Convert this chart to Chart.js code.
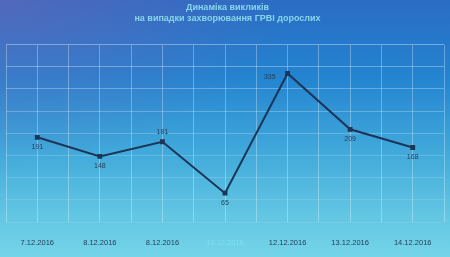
<!DOCTYPE html>
<html>
<head>
<meta charset="utf-8">
<script src="https://cdn.jsdelivr.net/npm/chart.js@4/dist/chart.umd.min.js"></script>
<style>
  html, body { margin: 0; padding: 0; }
  body {
    width: 450px; height: 257px; overflow: hidden;
    background:
      radial-gradient(ellipse at 0% 0%, rgba(120,100,180,0.5) 0%, rgba(120,100,180,0) 45%),
      linear-gradient(180deg, #2a6cc4 0%, #2384d0 30%, #42aadb 60%, #64c8e3 85%, #74d4e8 100%);
  }
  canvas { display: block; }
</style>
</head>
<body>
<canvas id="chart" width="450" height="257"></canvas>
<script>
const titleLines = ["Динаміка викликів", "на випадки захворювання ГРВІ дорослих"];
const dates = ["7.12.2016", "8.12.2016", "8.12.2016", "10.12.2016", "12.12.2016", "13.12.2016", "14.12.2016"];
const calls = [191, 148, 181, 65, 335, 209, 168];
const labelSide = ["below", "below", "above", "below", "left", "below", "below"];
const tickColors = ["#27405e", "#27405e", "#27405e", "#7fe0f0", "#27405e", "#27405e", "#27405e"];

// value labels next to points
const valueLabels = {
    id: "valueLabels",
    afterDatasetsDraw(chart) {
        const ctx = chart.ctx;
        const meta = chart.getDatasetMeta(0);
        ctx.save();
        ctx.font = "7px 'Liberation Sans', Arial, sans-serif";
        ctx.fillStyle = "#2d3d52";
        ctx.textBaseline = "middle";
        meta.data.forEach((pt, i) => {
            const side = labelSide[i];
            let x = pt.x, y = pt.y;
            ctx.textAlign = "center";
            if (side === "below") y += 10;
            else if (side === "above") y -= 10;
            else { x -= 12; y += 4; ctx.textAlign = "right"; }
            ctx.fillText(String(calls[i]), x, y);
        });
        ctx.restore();
    },
};

new Chart(document.getElementById("chart"), {
    type: "line",
    data: {
        labels: dates,
        datasets: [
            {
                data: calls,
                borderColor: "#1d3556",
                backgroundColor: "#1d3556",
                borderWidth: 2,
                pointStyle: "rect",
                pointRadius: 2,
                tension: 0,
                fill: false,
            },
        ],
    },
    options: {
        responsive: false,
        animation: false,
        layout: { padding: { left: 5, right: 0, top: 0, bottom: 11 } },
        plugins: {
            legend: { display: false },
            tooltip: { enabled: false },
            title: {
                display: true,
                text: titleLines,
                color: "#86d6ea",
                font: { family: "'Liberation Sans', Arial, sans-serif", size: 9, weight: "bold", lineHeight: 1.2 },
                padding: { top: 2, bottom: 21 },
            },
        },
        scales: {
            x: {
                offset: true,
                grid: { display: false, drawTicks: false },
                border: { display: false },
                afterFit: (s) => { s.height = 24; },
                ticks: {
                    color: (c) => tickColors[c.index],
                    font: { family: "'Liberation Sans', Arial, sans-serif", size: 7.5 },
                    padding: 16,
                    maxRotation: 0,
                    autoSkip: false,
                },
            },
            xg: {
                type: "linear",
                position: "top",
                min: -0.5,
                max: 6.5,
                ticks: { display: false, stepSize: 0.5 },
                border: { display: false },
                grid: { color: "rgba(255,255,255,0.3)", lineWidth: 1, drawTicks: false },
            },
            y: {
                min: 0,
                max: 400,
                ticks: { display: false, stepSize: 50 },
                border: { display: false },
                grid: {
                    drawTicks: false,
                    color: (c) => "rgba(255,255,255," + (0.08 + 0.035 * c.index).toFixed(3) + ")",
                },
            },
        },
    },
    plugins: [valueLabels],
});
</script>
</body>
</html>
